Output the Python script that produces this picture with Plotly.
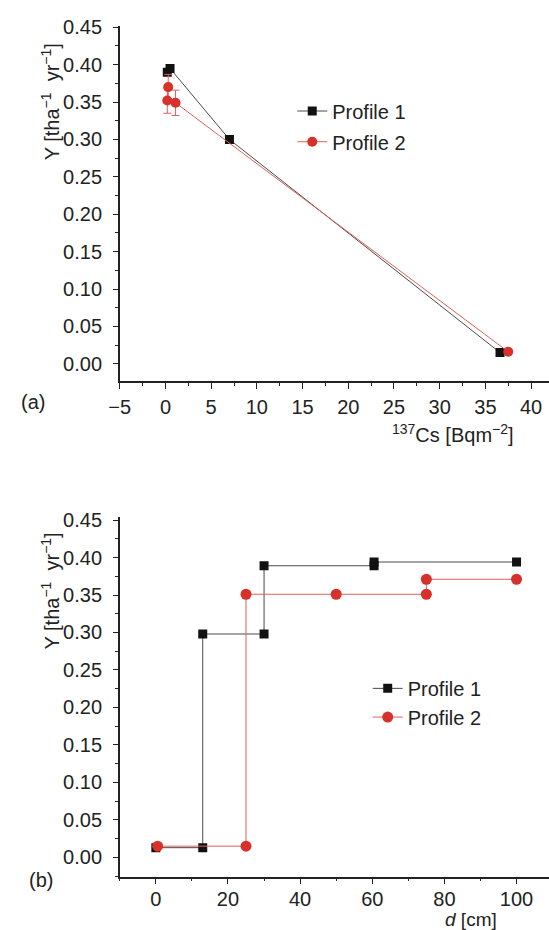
import plotly.graph_objects as go

# Panel (a): erosion rate Y against 137Cs inventory
cs_p1 = [0.2, 0.5, 7.0, 36.6]
y_p1_a = [0.390, 0.395, 0.300, 0.015]
cs_p2 = [0.3, 0.2, 1.1, 37.5]
y_p2_a = [0.370, 0.352, 0.349, 0.016]
err_p2_a = [0.017, 0.017, 0.017, 0.002]

# Panel (b): erosion rate Y against depth d (step profiles)
d_p1 = [0, 13, 13, 30, 30, 60.5, 60.5, 100]
y_p1_b = [0.013, 0.013, 0.298, 0.298, 0.389, 0.389, 0.394, 0.394]
d_p2 = [0.5, 25, 25, 50, 75, 75, 100]
y_p2_b = [0.015, 0.015, 0.351, 0.351, 0.351, 0.371, 0.371]

names = ["Profile 1", "Profile 2"]

W, H = 549, 930
FONT = "Liberation Sans, Arial, sans-serif"
TXT = "#222222"
BLACK_LINE = "#4a4a4a"
BLACK_MK = "#111111"
RED_LINE = "#e06060"
RED_MK = "#d8302a"


def px_x(p):
    return p / W


def px_y(p):
    return 1 - p / H


fig = go.Figure()

# ---- panel (a)
fig.add_trace(go.Scatter(
    x=cs_p1, y=y_p1_a, mode="lines+markers", name=names[0],
    line=dict(color=BLACK_LINE, width=1),
    marker=dict(symbol="square", size=9, color=BLACK_MK),
    xaxis="x", yaxis="y", legend="legend"))
fig.add_trace(go.Scatter(
    x=cs_p2, y=y_p2_a, mode="lines+markers", name=names[1],
    line=dict(color=RED_LINE, width=1),
    marker=dict(symbol="circle", size=10, color=RED_MK),
    error_y=dict(type="data", array=err_p2_a, color=RED_LINE, thickness=1, width=4),
    xaxis="x", yaxis="y", legend="legend2"))

# ---- panel (b)
fig.add_trace(go.Scatter(
    x=d_p1, y=y_p1_b, mode="lines+markers", name=names[0],
    line=dict(color=BLACK_LINE, width=1),
    marker=dict(symbol="square", size=9, color=BLACK_MK),
    xaxis="x2", yaxis="y2", legend="legend3"))
fig.add_trace(go.Scatter(
    x=d_p2, y=y_p2_b, mode="lines+markers", name=names[1],
    line=dict(color=RED_LINE, width=1),
    marker=dict(symbol="circle", size=11, color=RED_MK),
    xaxis="x2", yaxis="y2", legend="legend4"))

axis_common = dict(
    showline=True, linecolor="#222222", linewidth=1.5, mirror=False,
    showgrid=False, zeroline=False, ticks="outside", ticklen=6, tickwidth=1.2,
    tickcolor="#222222", tickfont=dict(family=FONT, size=20, color=TXT),
)
minor_x = lambda step: dict(dtick=step, ticks="outside", ticklen=3, tickcolor="#222222")

xa = dict(axis_common, domain=[px_x(111), 1.0], range=[-5, 41.96], dtick=5, tick0=0,
          ticklabelstandoff=1, minor=minor_x(2.5))
ya = dict(axis_common, domain=[px_y(376), px_y(16.8)], range=[-0.0235, 0.4522],
          dtick=0.05, tick0=0, tickformat=".2f", ticklen=5, ticklabelstandoff=7,
          minor=minor_x(0.025))
xb = dict(axis_common, domain=[px_x(111), 1.0], range=[-10, 109], dtick=20, tick0=0,
          ticklabelstandoff=-2, minor=minor_x(10))
yb = dict(axis_common, domain=[px_y(876), px_y(513.3)], range=[-0.0255, 0.4536],
          dtick=0.05, tick0=0, tickformat=".2f", ticklen=5, ticklabelstandoff=7,
          minor=minor_x(0.025))

legend_common = dict(
    font=dict(family=FONT, size=20, color=TXT), bgcolor="rgba(0,0,0,0)",
    borderwidth=0, xanchor="left", yanchor="middle", itemwidth=30,
)


def leg(xp, yp):
    return dict(legend_common, x=px_x(xp), y=px_y(yp))


ann_font = dict(family=FONT, size=20, color=TXT)


def label(text, xp, yp, size=20, **kw):
    return dict(text=text, x=px_x(xp), y=px_y(yp), xref="paper", yref="paper",
                xanchor="center", yanchor="middle", showarrow=False,
                font=dict(ann_font, size=size), **kw)


ytitle = "Y [tha<sup>−1</sup>  yr<sup>−1</sup>]"
annotations = [
    label("(a)", 22, 397),
    label("(b)", 31, 880),
    label(ytitle, 40, 94, textangle=-90),
    label(ytitle, 40, 588, textangle=-90),
    label("<sup>137</sup>Cs [Bqm<sup>−2</sup>]", 451, 429),
    label("<i>d</i> [cm]", 469, 919, size=19),
]

fig.update_layout(
    width=W, height=H,
    margin=dict(l=0, r=0, t=0, b=0),
    paper_bgcolor="white", plot_bgcolor="white",
    showlegend=True,
    xaxis=dict(xa, anchor="y"),
    yaxis=dict(ya, anchor="x"),
    xaxis2=dict(xb, anchor="y2"),
    yaxis2=dict(yb, anchor="x2"),
    legend=leg(287, 103),
    legend2=leg(287, 134),
    legend3=leg(364, 686),
    legend4=leg(364, 715),
    annotations=annotations,
)

fig.write_html("out.html")
